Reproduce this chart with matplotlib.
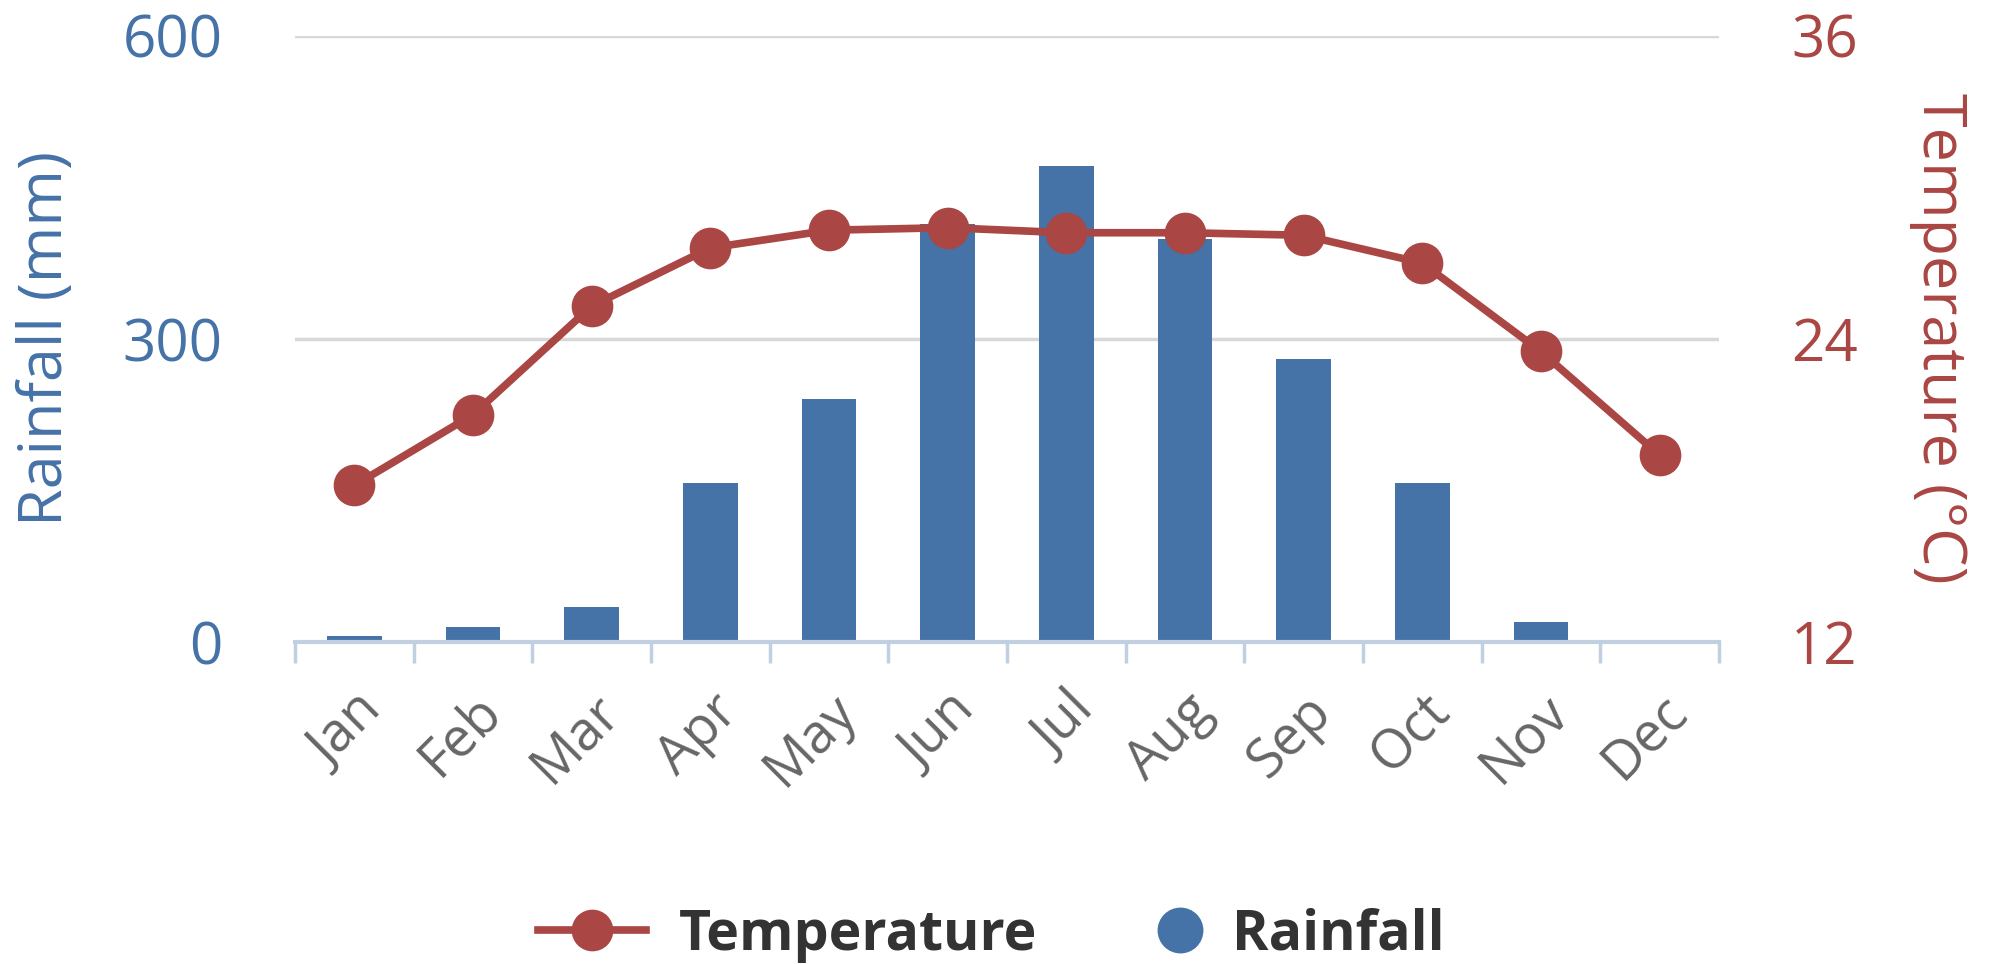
import matplotlib
matplotlib.use("Agg")
import matplotlib.pyplot as plt
from matplotlib.lines import Line2D
import numpy as np

# data
months = ['Jan', 'Feb', 'Mar', 'Apr', 'May', 'Jun',
          'Jul', 'Aug', 'Sep', 'Oct', 'Nov', 'Dec']
rainfall = [6, 15, 35, 157, 240, 414, 471, 399, 280, 157, 20, 0]
temperature = [18.2, 21.0, 25.3, 27.6, 28.3, 28.4,
               28.2, 28.2, 28.1, 27.0, 23.5, 19.4]

blue = '#4572A7'
red = '#AA4643'
grey = '#666666'

plt.rcParams['font.family'] = ['Open Sans', 'DejaVu Sans']

fig = plt.figure(figsize=(19.94, 9.64), dpi=100)
ax = fig.add_axes([0.148, 0.334, 0.714, 0.629])
ax2 = ax.twinx()

x = np.arange(len(months))

# rainfall bars
ax.bar(x, rainfall, width=0.46, color=blue, zorder=2)
ax.set_xlim(-0.5, len(months) - 0.5)
ax.set_ylim(0, 600)
ax.set_yticks([0, 300, 600])
ax.tick_params(axis='y', length=0, labelsize=42, labelcolor=blue, pad=52)
ax.grid(axis='y', color='#D8D8D8', linewidth=2.5, zorder=0)
ax.set_ylabel('Rainfall (mm)', color=blue, fontsize=44, labelpad=34)

# month labels + boundary ticks
ax.set_xticks(x)
ax.set_xticklabels(months, rotation=45, ha='right', rotation_mode='anchor',
                   fontsize=39, color=grey)
ax.tick_params(axis='x', length=0, pad=30)
ax.set_xticks(np.arange(-0.5, len(months)), minor=True)
ax.tick_params(axis='x', which='minor', length=15, width=2.5, color='#C0D0E0')

for s in ['top', 'right', 'left']:
    ax.spines[s].set_visible(False)
ax.spines['bottom'].set_color('#C0D0E0')
ax.spines['bottom'].set_linewidth(3)

# temperature line
ax2.plot(x, temperature, color=red, linewidth=5.5, marker='o',
         markersize=29, zorder=3)
ax2.set_ylim(12, 36)
ax2.set_yticks([12, 24, 36])
ax2.tick_params(axis='y', length=0, labelsize=42, labelcolor=red, pad=52)
ax2.set_ylabel('Temperature (°C)', color=red, fontsize=44, rotation=270,
               labelpad=80)
for s in ax2.spines.values():
    s.set_visible(False)

# legend, one entry each so the handles can differ in length
legend_font = {'size': 40, 'weight': 'bold'}
leg1 = fig.legend([Line2D([], [], color=red, linewidth=5.5, marker='o',
                          markersize=29)],
                  ['Temperature'], loc='center', bbox_to_anchor=(0.395, 0.03),
                  frameon=False, handlelength=1.95, handletextpad=0.6,
                  prop=legend_font)
leg2 = fig.legend([Line2D([], [], color=blue, linestyle='none', marker='o',
                          markersize=32)],
                  ['Rainfall'], loc='center', bbox_to_anchor=(0.651, 0.03),
                  frameon=False, handlelength=1.0, handletextpad=0.43,
                  prop=legend_font)
for leg in (leg1, leg2):
    for t in leg.get_texts():
        t.set_color('#333333')

fig.savefig('out.png', dpi=100)
